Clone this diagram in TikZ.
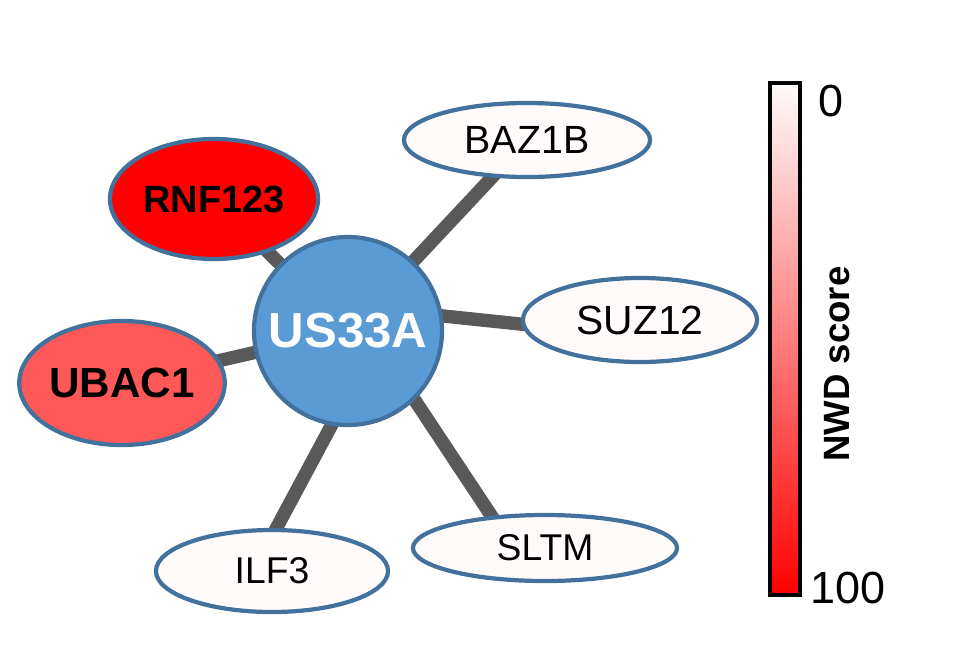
\documentclass[tikz,border=0pt]{standalone}
\usepackage{fontspec}
\setmainfont{Liberation Sans}
\usetikzlibrary{shapes.geometric,backgrounds}

\definecolor{hubblue}{RGB}{91,155,213}
\definecolor{rimblue}{RGB}{65,113,156}
\definecolor{nearwhite}{RGB}{255,251,251}
\definecolor{paleRed}{RGB}{255,88,88}
\definecolor{linkgray}{RGB}{89,89,89}

\begin{document}
\begin{tikzpicture}[x=0.025cm, y=-0.025cm,
	gene/.style={ellipse, draw=rimblue, line width=3pt, fill=nearwhite, inner sep=0pt, font=\fontsize{28}{30}\selectfont},
	link/.style={draw=linkgray, line width=9.5pt, shorten <=-6pt, shorten >=-6pt}]
	
		\useasboundingbox (0,0) rectangle (980,653);
		
		% hub and partners
		\node[circle, draw=rimblue, line width=3pt, fill=hubblue, minimum size=4.7cm, inner sep=0pt, text=white, font=\bfseries\fontsize{35}{38}\selectfont] (us33a) at (348,331) {US33A};
		\node[gene, fill=red, minimum width=5.2cm, minimum height=3cm, font=\bfseries\fontsize{27}{29}\selectfont] (rnf123) at (214,199) {RNF123};
		\node[gene, fill=paleRed, minimum width=5.1cm, minimum height=3.1cm, font=\bfseries\fontsize{30}{33}\selectfont] (ubac1) at (122,383) {UBAC1};
		\node[gene, minimum width=6.15cm, minimum height=1.85cm] (baz1b) at (527,140) {BAZ1B};
		\node[gene, minimum width=5.85cm, minimum height=2.1cm, font=\fontsize{29}{31}\selectfont] (suz12) at (640,320) {SUZ12};
		\node[gene, minimum width=5.8cm, minimum height=2.05cm, font=\fontsize{26.5}{28}\selectfont] (ilf3) at (272,571) {ILF3};
		\node[gene, minimum width=6.6cm, minimum height=1.65cm, font=\fontsize{26.5}{28}\selectfont] (sltm) at (545,548) {SLTM};
		
		\begin{pgfonlayer}{background}
			\draw[link] (us33a) -- (rnf123);
			\draw[link] (us33a) -- (ubac1);
			\draw[link] (us33a) -- (baz1b);
			\draw[link] (us33a.9) -- (suz12.182);
			\draw[link] (us33a.260) -- (ilf3.84);
			\draw[link] (us33a.314) -- (sltm.149);
		\end{pgfonlayer}
		
		% colour scale
		\shade[top color=nearwhite, bottom color=red] (770,83) rectangle (800,595);
		\draw[line width=2.2pt] (770,83) rectangle (800,595);
		\node[anchor=west, inner sep=0pt, font=\fontsize{32}{34}\selectfont] (low) at (818,101) {0};
		\node[anchor=west, inner sep=0pt, font=\fontsize{32}{34}\selectfont] (high) at (810,588) {100};
		\node[rotate=90, inner sep=0pt, font=\bfseries\fontsize{26}{28}\selectfont] (nwd) at (837,364) {NWD score};
		
	\end{tikzpicture}
\end{document}
